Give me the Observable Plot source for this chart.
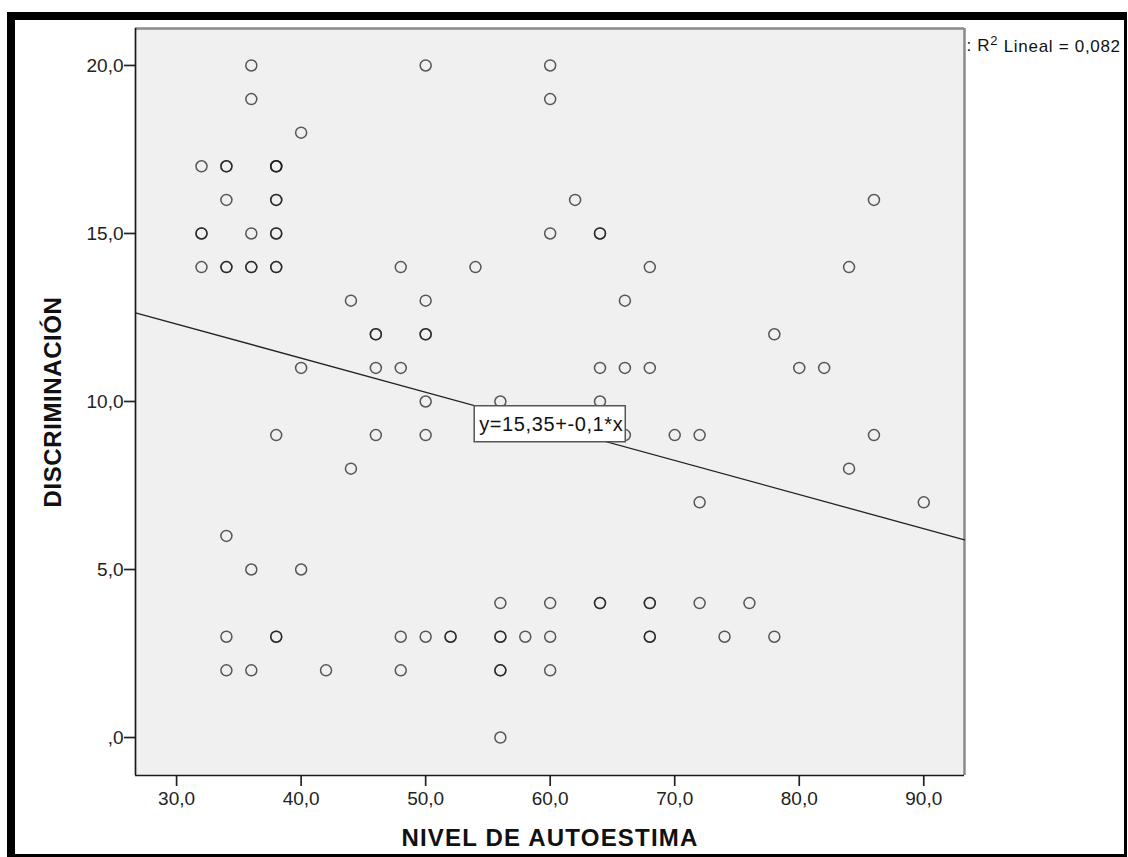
<!DOCTYPE html>
<html><head><meta charset="utf-8">
<script src="https://cdn.jsdelivr.net/npm/d3@7"></script>
<script src="https://cdn.jsdelivr.net/npm/@observablehq/plot@0.6"></script>
<style>
body{margin:0;background:#fff;}
#wrap{position:relative;width:1128px;height:857px;overflow:hidden;background:#fff;}
#wrap svg{position:absolute;left:0;top:0;}
#border{position:absolute;left:7px;top:12px;width:1120px;height:845px;box-sizing:border-box;border-style:solid;border-color:#000;border-width:8px 3px 3px 8px;pointer-events:none;z-index:2;}
</style></head><body>
<div id="wrap"><div id="border"></div></div>
<script>
// NIVEL DE AUTOESTIMA (x) and DISCRIMINACIÓN (y), one entry per observation
const autoestima = [
  36, 50, 60,
  36, 60,
  40,
  32, 34, 34, 38, 38, 38,
  34, 38, 38, 62, 86,
  32, 32, 36, 38, 38, 60, 64, 64,
  32, 34, 34, 36, 36, 38, 38, 48, 54, 68, 84,
  44, 50, 66,
  46, 46, 50, 50, 78,
  40, 46, 48, 64, 66, 68, 80, 82,
  50, 56, 64,
  38, 46, 50, 66, 70, 72, 86,
  44, 84,
  72, 90,
  34,
  36, 40,
  56, 60, 64, 64, 68, 68, 72, 76,
  34, 38, 38, 48, 50, 52, 52, 56, 56, 58, 60, 68, 68, 74, 78,
  34, 36, 42, 48, 56, 56, 60,
  56
];
const discriminacion = [
  20, 20, 20,
  19, 19,
  18,
  17, 17, 17, 17, 17, 17,
  16, 16, 16, 16, 16,
  15, 15, 15, 15, 15, 15, 15, 15,
  14, 14, 14, 14, 14, 14, 14, 14, 14, 14, 14,
  13, 13, 13,
  12, 12, 12, 12, 12,
  11, 11, 11, 11, 11, 11, 11, 11,
  10, 10, 10,
  9, 9, 9, 9, 9, 9, 9,
  8, 8,
  7, 7,
  6,
  5, 5,
  4, 4, 4, 4, 4, 4, 4, 4,
  3, 3, 3, 3, 3, 3, 3, 3, 3, 3, 3, 3, 3, 3, 3,
  2, 2, 2, 2, 2, 2, 2,
  0
];
const xTicks = [30, 40, 50, 60, 70, 80, 90];
const yTicks = [0, 5, 10, 15, 20];
const xDomain = [26.7, 93.27];
const yDomain = [-1.13, 21.1];
const regIntercept = 15.35;
const regSlope = -0.1015;
const xLabel = "NIVEL DE AUTOESTIMA";
const yLabel = "DISCRIMINACIÓN";
const equationLabel = "y=15,35+-0,1*x";
const equationPos = [54.3, 9.32];
const r2Parts = [": R", "2", " Lineal = 0,082"];
const r2Label = r2Parts.join("");

const points = autoestima.map((x, i) => ({x, y: discriminacion[i]}));
const regLine = xDomain.map(x => ({x, y: regIntercept + regSlope * x}));
const fmt = d => d === 0 ? ",0" : d.toFixed(1).replace(".", ",");

const chart = Plot.plot({
  width: 1128, height: 857,
  marginLeft: 135, marginRight: 164, marginTop: 28, marginBottom: 82,
  x: {domain: xDomain},
  y: {domain: yDomain},
  style: {fontFamily: "'Liberation Sans', Arial, sans-serif", fontSize: "19px", color: "#222", background: "transparent", overflow: "visible"},
  marks: [
    Plot.frame({fill: "#f0f0f0", stroke: null}),
    Plot.ruleY([yDomain[1]], {stroke: "#8a8a8a", strokeWidth: 2.5}),
    Plot.ruleX([xDomain[1]], {stroke: "#8a8a8a", strokeWidth: 2.5}),
    Plot.ruleX([xDomain[0]], {stroke: "#1a1a1a", strokeWidth: 1.7}),
    Plot.ruleY([yDomain[0]], {stroke: "#1a1a1a", strokeWidth: 1.7}),
    Plot.axisX({ticks: xTicks, tickFormat: fmt, tickSize: 11, tickPadding: 5, strokeWidth: 1.7, label: null, fill: "#222"}),
    Plot.axisY({ticks: yTicks, tickFormat: fmt, tickSize: 11, tickPadding: 1, strokeWidth: 1.7, label: null, fill: "#222"}),
    Plot.dot(points, {x: "x", y: "y", r: 5.5, stroke: "#1a1a1a", strokeOpacity: 0.72, strokeWidth: 1.5, fill: "none"}),
    Plot.line(regLine, {x: "x", y: "y", stroke: "#222", strokeWidth: 1.3}),
    Plot.text([equationLabel], {x: () => equationPos[0], y: () => equationPos[1], text: d => d, textAnchor: "start", lineAnchor: "middle", fontSize: 20, fill: "#111"}),
    Plot.text([xLabel], {frameAnchor: "bottom", dy: 63, text: d => d, textAnchor: "middle", lineAnchor: "middle", fontSize: 24, fontWeight: "bold", fill: "#111"}),
    Plot.text([yLabel], {frameAnchor: "left", dx: -82, text: d => d, rotate: -90, textAnchor: "middle", lineAnchor: "middle", fontSize: 24, fontWeight: "bold", fill: "#111"}),
    Plot.text([r2Label], {frameAnchor: "top-right", dx: 2, dy: 10, text: d => d, textAnchor: "start", lineAnchor: "top", fontSize: 17, fill: "#111"})
  ]
});
document.getElementById("wrap").appendChild(chart);

const svg = d3.select(chart);
const findText = s => svg.selectAll("text").filter(function () { return this.textContent === s; });
findText(xLabel).style("letter-spacing", "1.2px");
findText(yLabel).style("letter-spacing", "0.6px");
const r2 = findText(r2Label).style("letter-spacing", "0.7px");
r2.each(function () {
  const t = d3.select(this);
  t.text(null);
  t.append("tspan").text(r2Parts[0]);
  t.append("tspan").attr("dy", "-0.4em").attr("font-size", "13px").text(r2Parts[1]);
  t.append("tspan").attr("dy", "0.4em").text(r2Parts[2]);
});
const eq = findText(equationLabel).style("letter-spacing", "0.6px");
const eqNode = eq.node();
if (eqNode) {
  const bb = eqNode.getBBox();
  const h = 36;
  d3.select(eqNode.parentNode).insert("rect", () => eqNode)
    .attr("transform", eqNode.getAttribute("transform"))
    .attr("x", bb.x - 5)
    .attr("y", bb.y + bb.height / 2 - h / 2)
    .attr("width", bb.width + 7)
    .attr("height", h)
    .attr("fill", "#fff")
    .attr("stroke", "#555")
    .attr("stroke-width", 1.5);
}
</script>
</body></html>
